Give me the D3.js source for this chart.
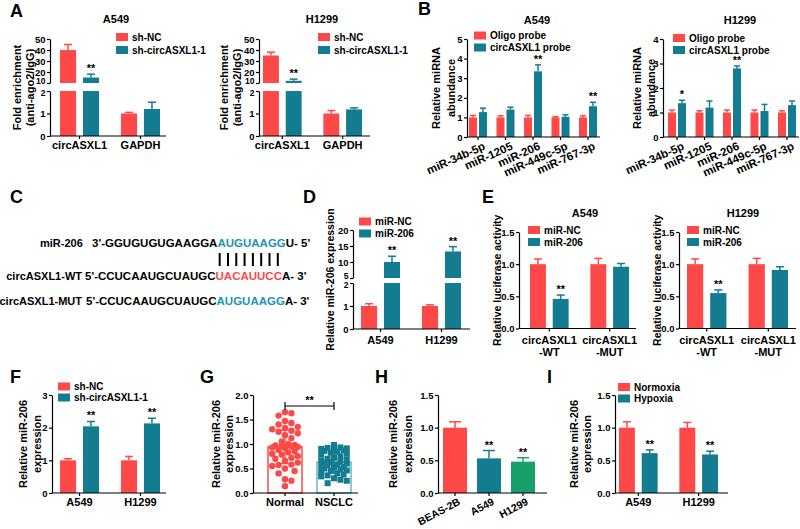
<!DOCTYPE html>
<html>
<head>
<meta charset="utf-8">
<script src="https://cdn.jsdelivr.net/npm/d3@7"></script>
<style>
  body { margin: 0; background: #fff; }
  svg text { font-family: 'Liberation Sans', Arial, Helvetica, sans-serif; font-weight: bold; fill: #000; }
</style>
</head>
<body>
<svg id="fig" width="800" height="529"></svg>
<script>
const RED = '#ff4848', TEAL = '#147c90', GREEN = '#18a06b', LTEAL = '#63b8cb';
const FONT = "'Liberation Sans', Arial, Helvetica, sans-serif";

// ---------- data ----------
// A: RIP assay
const ripGenes = ['circASXL1', 'GAPDH'];
const shSeries = ['sh-NC', 'sh-circASXL1-1'];
const ripA549 = [[40, 15], [1.0, 1.2]];
const ripA549Err = [[5, 3], [0.05, 0.3]];
const ripH1299 = [[35, 12], [1.0, 1.18]];
const ripH1299Err = [[3, 1.5], [0.13, 0.07]];
const ripStars = [['', '**'], ['', '']];

// B: pull-down
const probeMirs = ['miR-34b-5p', 'miR-1205', 'miR-206', 'miR-449c-5p', 'miR-767-3p'];
const probeSeries = ['Oligo probe', 'circASXL1 probe'];
const pullA549Oligo = [1, 1, 1, 1, 1];
const pullA549OligoErr = [0.1, 0.08, 0.1, 0.04, 0.08];
const pullA549Circ = [1.27, 1.4, 3.35, 1.03, 1.57];
const pullA549CircErr = [0.2, 0.12, 0.33, 0.1, 0.2];
const pullA549Stars = ['', '', '**', '', '**'];
const pullH1299Oligo = [1, 1, 1, 1, 1];
const pullH1299OligoErr = [0.1, 0.07, 0.1, 0.1, 0.07];
const pullH1299Circ = [1.38, 1.2, 2.8, 1.06, 1.3];
const pullH1299CircErr = [0.12, 0.27, 0.1, 0.27, 0.17];
const pullH1299Stars = ['*', '', '**', '', ''];

// C: binding sites
const seqMir = { name: 'miR-206', pre: "3'-GGUGUGUGAAGGA", site: 'AUGUAAGG', post: "U- 5'" };
const seqWT = { name: 'circASXL1-WT', pre: "5'-CCUCAAUGCUAUGC", site: 'UACAUUCC', post: "A- 3'" };
const seqMUT = { name: 'circASXL1-MUT', pre: "5'-CCUCAAUGCUAUGC", site: 'AUGUAAGG', post: "A- 3'" };

// D: miR-206 mimic
const cells = ['A549', 'H1299'];
const mirSeries = ['miR-NC', 'miR-206'];
const mimicNC = [1.0, 1.0], mimicNCErr = [0.1, 0.05];
const mimic206 = [10, 13.3], mimic206Err = [1.8, 1.5];

// E: luciferase
const lucGroups = ['circASXL1\n-WT', 'circASXL1\n-MUT'];
const lucA549NC = [1.0, 1.0], lucA549NCErr = [0.08, 0.09];
const lucA549Mir = [0.46, 0.96], lucA549MirErr = [0.06, 0.05];
const lucH1299NC = [1.0, 1.0], lucH1299NCErr = [0.08, 0.09];
const lucH1299Mir = [0.55, 0.91], lucH1299MirErr = [0.05, 0.05];

// F: knockdown
const kdNC = [1.0, 1.0], kdNCErr = [0.05, 0.12];
const kdSh = [2.04, 2.13], kdShErr = [0.15, 0.16];

// G: tissues
const tissueGroups = ['Normal', 'NSCLC'];
const normalVals = [1.65, 1.63, 1.58, 1.47, 1.43, 1.40, 1.35, 1.33, 1.30, 1.27, 1.25, 1.22, 1.18, 1.12,
  1.05, 1.00, 0.98, 0.97, 0.96, 0.95, 0.94, 0.93, 0.92, 0.88, 0.85, 0.83, 0.80, 0.78, 0.75, 0.72,
  0.70, 0.66, 0.62, 0.58, 0.57, 0.55, 0.50, 0.45, 0.40, 0.28, 0.25, 0.14];
const nsclcVals = [0.98, 0.93, 0.92, 0.91, 0.90, 0.88, 0.87, 0.86, 0.84, 0.82, 0.80, 0.78, 0.75, 0.72,
  0.70, 0.68, 0.66, 0.64, 0.63, 0.62, 0.60, 0.58, 0.57, 0.55, 0.53, 0.52, 0.50, 0.48, 0.46, 0.45,
  0.43, 0.40, 0.38, 0.36, 0.34, 0.30, 0.27, 0.25, 0.20];
const tissueMean = [0.94, 0.63], tissueSD = [0.34, 0.21];

// H: cell lines
const lineNames = ['BEAS-2B', 'A549', 'H1299'];
const lineVals = [1.0, 0.53, 0.48], lineErr = [0.09, 0.12, 0.06];
const lineStars = ['', '**', '**'];

// I: hypoxia
const oxSeries = ['Normoxia', 'Hypoxia'];
const oxNorm = [1.0, 1.0], oxNormErr = [0.09, 0.08];
const oxHyp = [0.61, 0.59], oxHypErr = [0.05, 0.05];

// ---------- drawing ----------
const svg = d3.select('#fig');
svg.append('rect').attr('width', 800).attr('height', 529).attr('fill', '#fff');

function styleAxis(g, size) {
  g.attr('font-family', FONT).attr('font-size', size || 9.5).attr('font-weight', 'bold');
  g.selectAll('path, line').attr('stroke', '#000').attr('stroke-width', 1.2);
  g.selectAll('text').attr('fill', '#000');
}

function yAxis(scale, ticks, fmt) {
  return d3.axisLeft(scale).tickValues(ticks).tickSize(3).tickSizeOuter(0)
    .tickFormat(fmt || d3.format('d')).tickPadding(1.5);
}

function barPanel(p) {
  const g = svg.append('g');
  const segs = p.segs.map(s => Object.assign({}, s, { sc: d3.scaleLinear().domain(s.domain).range(s.range) }));
  const yv = v => {
    for (const s of segs) if (v <= s.domain[1]) return s.sc(v);
    return segs[segs.length - 1].sc(v);
  };
  const y0 = segs[0].sc(0);
  const gx = d3.scaleBand().domain(p.groups).range(p.barRange).paddingInner(p.padG);
  const ns = p.vals[0].length;
  const sx = d3.scaleBand().domain(d3.range(ns)).range([0, gx.bandwidth()]).paddingInner(p.padS || 0);

  p.groups.forEach((grp, gi) => {
    p.vals[gi].forEach((v, si) => {
      const x = gx(grp) + sx(si), w = sx.bandwidth();
      const col = p.color(gi, si);
      segs.forEach(s => {
        if (v <= s.domain[0]) return;
        const hi = Math.min(v, s.domain[1]);
        g.append('rect').attr('x', x).attr('width', w)
          .attr('y', s.sc(hi)).attr('height', s.sc(s.domain[0]) - s.sc(hi))
          .attr('fill', col);
      });
      const cx = x + w / 2, yt = yv(v + p.errs[gi][si]);
      const capW = Math.max(6, w * 0.5);
      g.append('line').attr('x1', cx).attr('x2', cx).attr('y1', yv(v)).attr('y2', yt)
        .attr('stroke', col).attr('stroke-width', 1.5);
      g.append('line').attr('x1', cx - capW / 2).attr('x2', cx + capW / 2).attr('y1', yt).attr('y2', yt)
        .attr('stroke', col).attr('stroke-width', 1.5);
      const st = p.stars ? p.stars[gi][si] : '';
      if (st) {
        g.append('text').attr('x', cx).attr('y', yt - 2).attr('text-anchor', 'middle')
          .attr('font-size', 11).text(st);
      }
    });
  });

  // y axis segments (labels at a break are nudged apart a little)
  segs.forEach((s, k) => {
    const ax = g.append('g').attr('transform', `translate(${p.axisX},0)`)
      .call(yAxis(s.sc, s.ticks, p.fmt));
    styleAxis(ax, p.tickSize);
    if (segs.length > 1) {
      const edge = k === 0 ? s.ticks[s.ticks.length - 1] : s.ticks[0];
      ax.selectAll('.tick').filter(d => d === edge).select('text')
        .attr('dy', k === 0 ? '0.55em' : '0.1em').attr('font-size', 8.5);
    }
  });

  // x axis
  g.append('line').attr('x1', p.axisX).attr('x2', p.axisEnd).attr('y1', y0).attr('y2', y0)
    .attr('stroke', '#000').attr('stroke-width', 1.2);
  p.groups.forEach(grp => {
    const cx = gx(grp) + gx.bandwidth() / 2;
    g.append('line').attr('x1', cx).attr('x2', cx).attr('y1', y0).attr('y2', y0 + 3)
      .attr('stroke', '#000').attr('stroke-width', 1.2);
    const xl = p.xlab;
    if (xl.rotate) {
      g.append('text')
        .attr('transform', `translate(${cx + xl.dx},${y0 + xl.dy}) rotate(${xl.rotate})`)
        .attr('text-anchor', 'end').attr('font-size', xl.size).text(grp);
    } else {
      const t = g.append('text').attr('text-anchor', 'middle').attr('font-size', xl.size);
      grp.split('\n').forEach((line, li) => {
        t.append('tspan').attr('x', cx).attr('y', y0 + xl.dy + li * (xl.lh || 12)).text(line);
      });
    }
  });

  // y label
  const yTop = d3.min(segs, s => s.range[1]);
  const cy = p.ylab.cy || (yTop + y0) / 2;
  p.ylab.lines.forEach((line, i) => {
    g.append('text').attr('transform', `translate(${p.ylab.xs[i]},${cy}) rotate(-90)`)
      .attr('text-anchor', 'middle').attr('dy', '0.35em').attr('font-size', p.ylab.size)
      .text(line);
  });

  if (p.legend) legend(p.legend);
  if (p.title) {
    svg.append('text').attr('x', p.title.x).attr('y', p.title.y).attr('text-anchor', 'middle')
      .attr('font-size', 11).text(p.title.text);
  }
}

function legend(l) {
  l.labels.forEach((lab, i) => {
    svg.append('rect').attr('x', l.x).attr('y', l.ys[i] - 4).attr('width', 12).attr('height', 8)
      .attr('fill', l.colors[i]);
    svg.append('text').attr('x', l.x + 16).attr('y', l.ys[i]).attr('dy', '0.35em')
      .attr('font-size', 10).text(lab);
  });
}

const two = (si) => [RED, TEAL][si];

// A
barPanel({
  segs: [{ domain: [0, 2], range: [136, 91], ticks: [0, 1, 2] },
         { domain: [10, 50], range: [83, 39], ticks: [10, 20, 30, 40, 50] }],
  axisX: 50, axisEnd: 166, barRange: [60, 160], padG: 0.36, padS: 0.3,
  groups: ripGenes, vals: ripA549, errs: ripA549Err, stars: ripStars,
  color: (gi, si) => two(si),
  xlab: { dy: 13, size: 11 },
  ylab: { lines: ['Fold enrichment', '(anti-ago2/IgG)'], xs: [17, 30], size: 11 },
  legend: { x: 116, ys: [37, 50], labels: shSeries, colors: [RED, TEAL] },
  title: { text: 'A549', x: 116, y: 23 }
});
barPanel({
  segs: [{ domain: [0, 2], range: [136, 91], ticks: [0, 1, 2] },
         { domain: [10, 50], range: [83, 39], ticks: [10, 20, 30, 40, 50] }],
  axisX: 259, axisEnd: 370, barRange: [263, 362], padG: 0.36, padS: 0.3,
  groups: ripGenes, vals: ripH1299, errs: ripH1299Err, stars: ripStars,
  color: (gi, si) => two(si),
  xlab: { dy: 13, size: 11 },
  ylab: { lines: ['Fold enrichment', '(anti-ago2/IgG)'], xs: [224, 237], size: 11 },
  legend: { x: 318, ys: [37, 50], labels: shSeries, colors: [RED, TEAL] },
  title: { text: 'H1299', x: 322, y: 23 }
});

// B
barPanel({
  segs: [{ domain: [0, 5], range: [137, 39], ticks: [0, 1, 2, 3, 4, 5] }],
  axisX: 467, axisEnd: 600, barRange: [469, 597], padG: 0.345, padS: 0.2,
  groups: probeMirs, vals: d3.zip(pullA549Oligo, pullA549Circ),
  errs: d3.zip(pullA549OligoErr, pullA549CircErr),
  stars: pullA549Stars.map(s => ['', s]),
  color: (gi, si) => two(si),
  xlab: { rotate: -24, dx: 8, dy: 12, size: 11.5 },
  ylab: { lines: ['Relative miRNA', 'abundance'], xs: [436, 451], size: 11 },
  legend: { x: 474, ys: [35.5, 47.5], labels: probeSeries, colors: [RED, TEAL] },
  title: { text: 'A549', x: 537, y: 24 }
});
barPanel({
  segs: [{ domain: [0, 4], range: [137, 39], ticks: [0, 1, 2, 3, 4] }],
  axisX: 663, axisEnd: 799, barRange: [668, 796], padG: 0.345, padS: 0.2,
  groups: probeMirs, vals: d3.zip(pullH1299Oligo, pullH1299Circ),
  errs: d3.zip(pullH1299OligoErr, pullH1299CircErr),
  stars: pullH1299Stars.map(s => ['', s]),
  color: (gi, si) => two(si),
  xlab: { rotate: -24, dx: 8, dy: 12, size: 11.5 },
  ylab: { lines: ['Relative miRNA', 'abundance'], xs: [637, 651], size: 11 },
  legend: { x: 673, ys: [38, 50], labels: probeSeries, colors: [RED, TEAL] },
  title: { text: 'H1299', x: 740, y: 24 }
});

// C: sequences
function seqRow(s, nameX, nameAnchor, seqX, y, col) {
  svg.append('text').attr('x', nameX).attr('y', y).attr('text-anchor', nameAnchor)
    .attr('font-size', 11).text(s.name);
  const t = svg.append('text').attr('x', seqX).attr('y', y).attr('font-size', 11.5);
  t.append('tspan').text(s.pre);
  t.append('tspan').style('fill', col).text(s.site);
  t.append('tspan').text(s.post);
  return t;
}
seqRow(seqMir, 40, 'start', 92, 247, '#1e93b0');
const wtRow = seqRow(seqWT, 82, 'end', 85, 280, RED);
seqRow(seqMUT, 82, 'end', 86, 305, '#1e93b0');
{
  const node = wtRow.node();
  for (let i = 0; i < seqWT.site.length; i++) {
    const a = node.getStartPositionOfChar(seqWT.pre.length + i).x;
    const b = node.getEndPositionOfChar(seqWT.pre.length + i).x;
    const cx = (a + b) / 2;
    svg.append('line').attr('x1', cx).attr('x2', cx).attr('y1', 253).attr('y2', 266)
      .attr('stroke', '#000').attr('stroke-width', 2);
  }
}

// D
barPanel({
  segs: [{ domain: [0, 2], range: [329, 283], ticks: [0, 1, 2] },
         { domain: [5, 20], range: [278, 230], ticks: [5, 10, 15, 20] }],
  axisX: 353, axisEnd: 470, barRange: [361, 461], padG: 0.36, padS: 0.3,
  groups: cells, vals: d3.zip(mimicNC, mimic206), errs: d3.zip(mimicNCErr, mimic206Err),
  stars: [['', '**'], ['', '**']],
  color: (gi, si) => two(si),
  xlab: { dy: 15, size: 11 },
  ylab: { lines: ['Relative miR-206 expression'], xs: [330], size: 10.5 },
  legend: { x: 359, ys: [221.5, 233.5], labels: mirSeries, colors: [RED, TEAL] }
});

// E
barPanel({
  segs: [{ domain: [0, 1.5], range: [328.5, 232], ticks: [0, 0.5, 1, 1.5] }], fmt: d3.format('.1f'),
  axisX: 519, axisEnd: 636, barRange: [530, 629], padG: 0.36, padS: 0.3,
  groups: lucGroups, vals: d3.zip(lucA549NC, lucA549Mir), errs: d3.zip(lucA549NCErr, lucA549MirErr),
  stars: [['', '**'], ['', '']],
  color: (gi, si) => two(si),
  xlab: { dy: 15, lh: 12.5, size: 11 },
  ylab: { lines: ['Relative luciferase activity'], xs: [497], size: 10.5 },
  legend: { x: 528, ys: [230, 242], labels: mirSeries, colors: [RED, TEAL] },
  title: { text: 'A549', x: 585, y: 217 }
});
barPanel({
  segs: [{ domain: [0, 1.5], range: [328.5, 232], ticks: [0, 0.5, 1, 1.5] }], fmt: d3.format('.1f'),
  axisX: 679, axisEnd: 796, barRange: [687, 788], padG: 0.36, padS: 0.3,
  groups: lucGroups, vals: d3.zip(lucH1299NC, lucH1299Mir), errs: d3.zip(lucH1299NCErr, lucH1299MirErr),
  stars: [['', '**'], ['', '']],
  color: (gi, si) => two(si),
  xlab: { dy: 15, lh: 12.5, size: 11 },
  ylab: { lines: ['Relative luciferase activity'], xs: [657], size: 10.5 },
  legend: { x: 687, ys: [230, 242], labels: mirSeries, colors: [RED, TEAL] },
  title: { text: 'H1299', x: 743, y: 217 }
});

// F
barPanel({
  segs: [{ domain: [0, 3], range: [493, 395], ticks: [0, 1, 2, 3] }],
  axisX: 52, axisEnd: 166, barRange: [60, 160], padG: 0.36, padS: 0.3,
  groups: cells, vals: d3.zip(kdNC, kdSh), errs: d3.zip(kdNCErr, kdShErr),
  stars: [['', '**'], ['', '**']],
  color: (gi, si) => two(si),
  xlab: { dy: 13, size: 11 },
  ylab: { lines: ['Relative miR-206', 'expression'], xs: [23, 37], size: 11 },
  legend: { x: 58, ys: [386.5, 397.5], labels: shSeries, colors: [RED, TEAL] }
});

// G: scatter with bars
{
  const g = svg.append('g');
  const y = d3.scaleLinear().domain([0, 2]).range([493, 395]);
  const x = d3.scaleBand().domain(tissueGroups).range([268, 351]).paddingInner(0.306);
  const w = x.bandwidth();
  const outline = [RED, LTEAL];
  tissueGroups.forEach((grp, gi) => {
    const x0 = x(grp), m = tissueMean[gi];
    g.append('rect').attr('x', x0).attr('y', y(m)).attr('width', w).attr('height', y(0) - y(m))
      .attr('fill', 'none').attr('stroke', outline[gi]).attr('stroke-width', 1.5);
  });
  // beeswarm layout of points, kept inside the bar width
  function swarm(vals, d, maxOff) {
    const placed = [];
    return vals.map(v => {
      const py = y(v);
      let best = 0, bestGap = -1;
      for (let k = 0; k < 60; k++) {
        const cand = k === 0 ? 0 : (k % 2 ? 1 : -1) * Math.ceil(k / 2) * d * 0.5;
        if (Math.abs(cand) > maxOff) continue;
        const gap = placed.length ? d3.min(placed, q => Math.hypot(q.dx - cand, q.y - py)) : Infinity;
        if (gap >= d) { best = cand; bestGap = gap; break; }
        if (gap > bestGap) { best = cand; bestGap = gap; }
      }
      placed.push({ dx: best, y: py });
      return { dx: best, y: py };
    });
  }
  const cN = x('Normal') + w / 2, cS = x('NSCLC') + w / 2;
  swarm(normalVals, 6.4, 13.5).forEach(p => {
    g.append('circle').attr('cx', cN + p.dx).attr('cy', p.y).attr('r', 3.2).attr('fill', RED);
  });
  swarm(nsclcVals, 6.4, 13.5).forEach(p => {
    g.append('rect').attr('x', cS + p.dx - 3).attr('y', p.y - 3).attr('width', 6).attr('height', 6)
      .attr('fill', TEAL);
  });
  tissueGroups.forEach((grp, gi) => {
    const cx = x(grp) + w / 2, m = tissueMean[gi], sd = tissueSD[gi];
    const col = gi ? TEAL : RED;
    g.append('line').attr('x1', cx).attr('x2', cx).attr('y1', y(m + sd)).attr('y2', y(m - sd))
      .attr('stroke', col).attr('stroke-width', 1.3);
    [m + sd, m - sd].forEach(v => {
      g.append('line').attr('x1', cx - 5).attr('x2', cx + 5).attr('y1', y(v)).attr('y2', y(v))
        .attr('stroke', col).attr('stroke-width', 1.3);
    });
  });
  const ax = g.append('g').attr('transform', 'translate(253,0)')
    .call(yAxis(y, [0, 0.5, 1, 1.5, 2], d3.format('.1f')));
  styleAxis(ax);
  g.append('line').attr('x1', 253).attr('x2', 358).attr('y1', y(0)).attr('y2', y(0))
    .attr('stroke', '#000').attr('stroke-width', 1.2);
  tissueGroups.forEach(grp => {
    const cx = x(grp) + w / 2;
    g.append('line').attr('x1', cx).attr('x2', cx).attr('y1', y(0)).attr('y2', y(0) + 3)
      .attr('stroke', '#000').attr('stroke-width', 1.2);
    g.append('text').attr('x', cx).attr('y', y(0) + 13).attr('text-anchor', 'middle')
      .attr('font-size', 11).text(grp);
  });
  // significance bracket
  const by = 406;
  g.append('line').attr('x1', cN).attr('x2', cS).attr('y1', by).attr('y2', by).attr('stroke', '#000').attr('stroke-width', 1.2);
  [cN, cS].forEach(cx => g.append('line').attr('x1', cx).attr('x2', cx).attr('y1', by - 4).attr('y2', by + 4)
    .attr('stroke', '#000').attr('stroke-width', 1.2));
  g.append('text').attr('x', (cN + cS) / 2).attr('y', by - 2).attr('text-anchor', 'middle')
    .attr('font-size', 11).text('**');
  ['Relative miR-206', 'expression'].forEach((line, i) => {
    g.append('text').attr('transform', `translate(${[216, 229][i]},444) rotate(-90)`)
      .attr('text-anchor', 'middle').attr('dy', '0.35em').attr('font-size', 11).text(line);
  });
}

// H
barPanel({
  segs: [{ domain: [0, 1.5], range: [493, 395], ticks: [0, 0.5, 1, 1.5] }], fmt: d3.format('.1f'),
  axisX: 438, axisEnd: 547, barRange: [443, 535], padG: 0.294, padS: 0,
  groups: lineNames, vals: lineVals.map(v => [v]), errs: lineErr.map(e => [e]),
  stars: lineStars.map(s => [s]),
  color: (gi) => [RED, TEAL, GREEN][gi],
  xlab: { rotate: -28, dx: 6, dy: 11, size: 10.5 },
  ylab: { lines: ['Relative miR-206', 'expression'], xs: [393, 408], size: 11 }
});

// I
barPanel({
  segs: [{ domain: [0, 1.5], range: [493, 395], ticks: [0, 0.5, 1, 1.5] }], fmt: d3.format('.1f'),
  axisX: 615, axisEnd: 728, barRange: [619, 718], padG: 0.36, padS: 0.3,
  groups: cells, vals: d3.zip(oxNorm, oxHyp), errs: d3.zip(oxNormErr, oxHypErr),
  stars: [['', '**'], ['', '**']],
  color: (gi, si) => two(si),
  xlab: { dy: 13, size: 11 },
  ylab: { lines: ['Relative miR-206', 'expression'], xs: [574, 587], size: 11 },
  legend: { x: 618, ys: [387, 398.5], labels: oxSeries, colors: [RED, TEAL] }
});

// panel letters
const letters = [['A', 10, 17], ['B', 418, 15], ['C', 10, 203], ['D', 303, 203], ['E', 482, 203],
  ['F', 10, 383], ['G', 200, 383], ['H', 375, 383], ['I', 547, 383]];
letters.forEach(([t, x, y]) => {
  svg.append('text').attr('x', x).attr('y', y).attr('font-size', 18).text(t);
});
</script>
</body>
</html>
